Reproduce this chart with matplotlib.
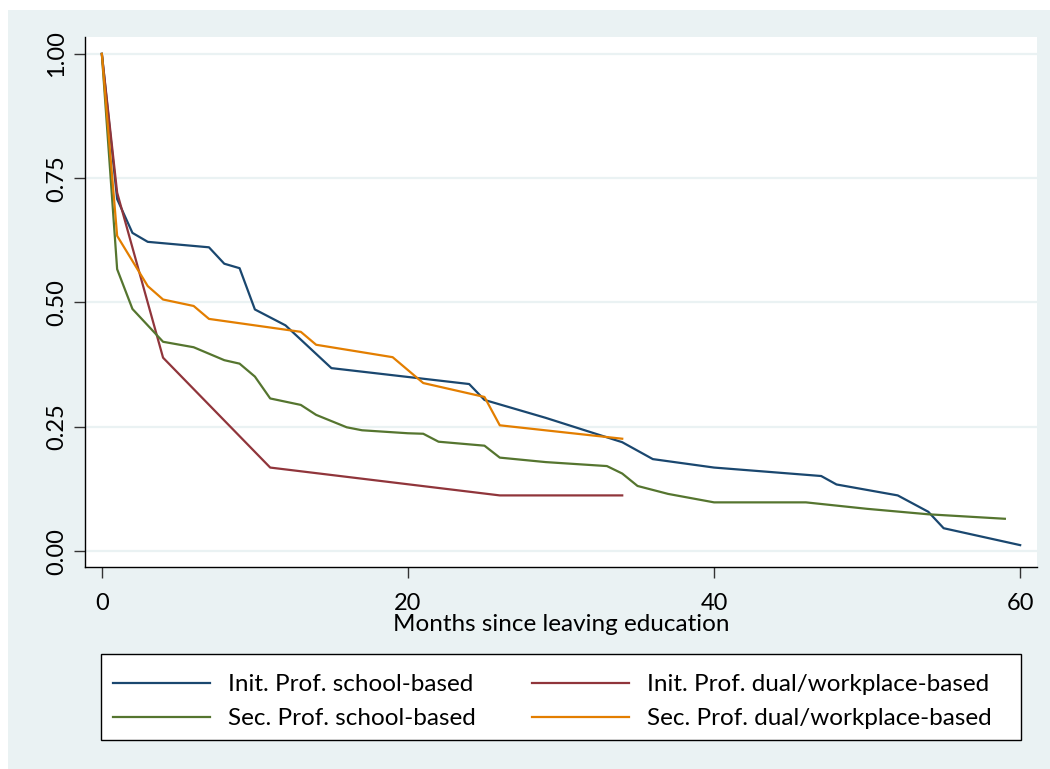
import matplotlib
matplotlib.use('Agg')
import matplotlib.pyplot as plt
from matplotlib.patches import Rectangle

plt.rcParams['font.family'] = ['Lato', 'DejaVu Sans']

# survival curves (months, share still searching)
init_school_x = [0, 1, 2, 3, 7, 8, 9, 10, 12, 15, 24, 25, 29, 34, 36, 40, 47, 48, 52, 54, 55, 60]
init_school_y = [1.0, 0.708, 0.64, 0.622, 0.611, 0.578, 0.569, 0.486, 0.454, 0.368, 0.336, 0.304,
                 0.268, 0.219, 0.185, 0.168, 0.151, 0.134, 0.112, 0.079, 0.046, 0.012]

init_dual_x = [0, 1, 4, 11, 26, 34]
init_dual_y = [1.0, 0.721, 0.389, 0.168, 0.112, 0.112]

sec_school_x = [0, 1, 2, 4, 6, 8, 9, 10, 11, 13, 14, 16, 17, 20, 21, 22, 25, 26, 29, 33, 34, 35,
                37, 40, 46, 50, 54, 59]
sec_school_y = [1.0, 0.567, 0.487, 0.421, 0.41, 0.384, 0.377, 0.351, 0.307, 0.294, 0.274, 0.249,
                0.243, 0.237, 0.236, 0.22, 0.212, 0.188, 0.179, 0.171, 0.156, 0.131, 0.115, 0.098,
                0.098, 0.085, 0.074, 0.065]

sec_dual_x = [0, 1, 3, 4, 6, 7, 13, 14, 19, 21, 25, 26, 34]
sec_dual_y = [1.0, 0.634, 0.533, 0.506, 0.493, 0.467, 0.441, 0.415, 0.39, 0.338, 0.31, 0.253, 0.226]

labels = ['Init. Prof. school-based', 'Init. Prof. dual/workplace-based',
          'Sec. Prof. school-based', 'Sec. Prof. dual/workplace-based']
colors = ['#1a476f', '#90353b', '#55752f', '#e37e00']

x_ticks = [0, 20, 40, 60]
y_ticks = [0, 0.25, 0.5, 0.75, 1.0]
y_ticklabels = ['0.00', '0.25', '0.50', '0.75', '1.00']

bg = '#eaf2f3'
W, H = 1050, 769

fig = plt.figure(figsize=(10.5, 7.69), dpi=100, facecolor='white')
# outer graph region
fig.patches.append(Rectangle((8 / W, 0), 1 - 8 / W, 1 - 10 / H,
                             transform=fig.transFigure, facecolor=bg, edgecolor='none', zorder=-10))

ax = fig.add_axes([85 / W, 1 - 567 / H, (1037 - 85) / W, (567 - 37) / H])
ax.set_facecolor('white')

series = [(init_school_x, init_school_y), (init_dual_x, init_dual_y),
          (sec_school_x, sec_school_y), (sec_dual_x, sec_dual_y)]
lines = []
for (xs, ys), lab, col in zip(series, labels, colors):
    ln, = ax.plot(xs, ys, color=col, lw=1.6, label=lab)
    lines.append(ln)

ax.set_xlim(-1.1, 61.1)
ax.set_ylim(-0.032, 1.034)
ax.set_xticks(x_ticks)
ax.set_yticks(y_ticks)
ax.set_yticklabels(y_ticklabels, rotation=90, va='center')
ax.tick_params(labelsize=17, length=8, width=1.0, color='#333333')
ax.tick_params(axis='x', pad=11)
ax.tick_params(axis='y', pad=5)
ax.grid(axis='y', color=bg, lw=1.6)
ax.set_axisbelow(True)
for s in ['top', 'right']:
    ax.spines[s].set_visible(False)
for s in ['left', 'bottom']:
    ax.spines[s].set_linewidth(1.0)
ax.set_xlabel('Months since leaving education', fontsize=17.5, labelpad=0)

# legend box drawn by hand so it spans the same width as in the original
fig.patches.append(Rectangle((101 / W, 1 - 740 / H), 920 / W, 86 / H, transform=fig.transFigure,
                             facecolor='white', edgecolor='black', lw=1.0, zorder=1))
order = [0, 2, 1, 3]  # row-wise filling
leg = fig.legend([lines[i] for i in order], [labels[i] for i in order],
                 loc='upper left', ncol=2, fontsize=17.5,
                 bbox_to_anchor=(113 / W, 1 - 674 / H),
                 handlelength=4.0, handletextpad=0.74, columnspacing=2.3,
                 borderaxespad=0, borderpad=0, frameon=False, labelspacing=0.55)

fig.savefig('out.png', dpi=100, facecolor=fig.get_facecolor())
